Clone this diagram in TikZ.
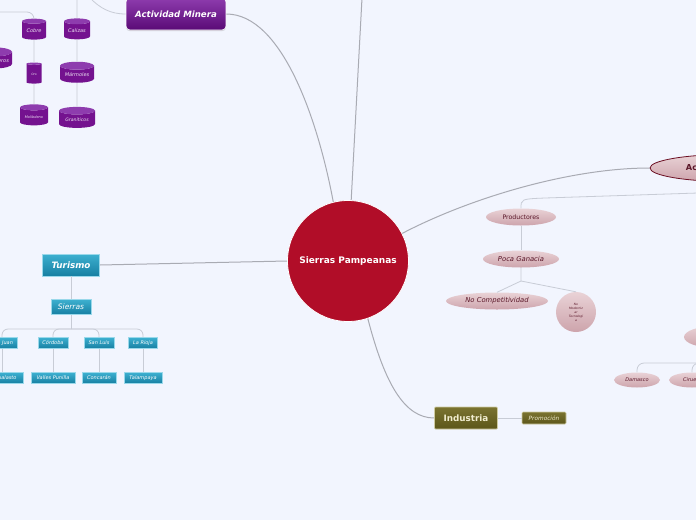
\documentclass[tikz,border=0pt]{standalone}
\usepackage{fontspec}
\setmainfont{DejaVu Sans}
\usetikzlibrary{shapes.geometric, shadows}
\definecolor{bgMap}{HTML}{F2F5FE}
\definecolor{coreRed}{HTML}{B10D28}
\definecolor{mineTop}{HTML}{8E3CAE}
\definecolor{mineMid}{HTML}{74128F}
\definecolor{mineBot}{HTML}{5A0A76}
\definecolor{mineText}{HTML}{EDE3F3}
\definecolor{turTop}{HTML}{3DB0D0}
\definecolor{turBot}{HTML}{177FA2}
\definecolor{turEdge}{HTML}{9AD8EA}
\definecolor{agroTop}{HTML}{E9D2D6}
\definecolor{agroBot}{HTML}{CDA4AC}
\definecolor{agroEdge}{HTML}{6B0E22}
\definecolor{agroText}{HTML}{5A1628}
\definecolor{indTop}{HTML}{7A7330}
\definecolor{indBot}{HTML}{5C561A}
\definecolor{indEdge}{HTML}{CFCBA2}
\definecolor{indText}{HTML}{F1EDCF}
\definecolor{linkDark}{HTML}{A9ABB3}
\definecolor{linkLight}{HTML}{C8CCD6}

\begin{document}
\begin{tikzpicture}[
    x=1pt, y=-1pt,
    core/.style={circle, draw=white, line width=0.8pt, fill=coreRed,
                 minimum size=121pt, text=white,
                 font=\bfseries\fontsize{9}{10}\selectfont},
    minebox/.style={rectangle, rounded corners=4pt, top color=mineTop, bottom color=mineBot,
                 draw=white, line width=0.6pt, minimum width=100pt, minimum height=32pt,
                 text=white, font=\bfseries\itshape\fontsize{8.6}{10}\selectfont,
                 drop shadow={opacity=0.3, shadow xshift=0pt, shadow yshift=-1.2pt}},
    minecyl/.style={cylinder, shape border rotate=90, aspect=0.3, draw=none,
                 cylinder uses custom fill, cylinder body fill=mineMid, cylinder end fill=mineTop,
                 inner sep=1pt, text=mineText, font=\itshape\fontsize{5}{6}\selectfont},
    turbox/.style={rectangle, top color=turTop, bottom color=turBot, draw=turEdge,
                 line width=0.6pt, text=white, inner sep=1pt},
    agrobox/.style={ellipse, top color=agroTop, bottom color=agroBot, draw=none,
                 inner sep=0pt, text=agroText, font=\itshape\fontsize{6.8}{8}\selectfont},
    indbox/.style={rectangle, rounded corners=1pt, top color=indTop, bottom color=indBot,
                 draw=indEdge, line width=0.6pt, text=indText, inner sep=1pt},
    link/.style={draw=linkDark, line width=1pt},
    sublink/.style={draw=linkLight, line width=0.8pt},
]

\fill[bgMap] (0,0) rectangle (696,520);
\useasboundingbox (0,0) rectangle (696,520);
\clip (0,0) rectangle (696,520);

% centre
\node[core] (sp) at (348,261) {Sierras Pampeanas};

% mineria
\node[minebox] (am) at (176,14) {Actividad Minera};
\node[minecyl, minimum width=24pt, minimum height=21pt] (cu) at (34,31) {Cobre};
\node[minecyl, minimum width=26pt, minimum height=21pt] (cal) at (77,31) {Calizas};
\node[minecyl, minimum width=34pt, minimum height=21pt] (met) at (-5,61) {Metalíferos};
\node[minecyl, minimum width=15pt, minimum height=21pt, font=\itshape\fontsize{3}{4}\selectfont] (au) at (34,74) {Oro};
\node[minecyl, minimum width=34pt, minimum height=21pt] (mar) at (77,75) {Mármoles};
\node[minecyl, minimum width=28pt, minimum height=21pt, font=\itshape\fontsize{3.5}{4}\selectfont] (mo) at (34,117) {Molibdeno};
\node[minecyl, minimum width=36pt, minimum height=21pt, font=\itshape\fontsize{4.6}{5}\selectfont] (gra) at (77,120) {Graníticos};
\coordinate (amOff) at (90,-2);
\coordinate (cuOff) at (-2,12);
\coordinate (calOff) at (77,-2);
\coordinate (spOff) at (362,-2);

% turismo
\node[turbox, minimum width=57pt, minimum height=22pt, font=\bfseries\itshape\fontsize{8.8}{10}\selectfont] (tur) at (71,265) {Turismo};
\node[turbox, minimum width=40pt, minimum height=15pt, font=\itshape\fontsize{7.5}{8}\selectfont] (sie) at (71,307) {Sierras};
\foreach \id/\x/\w/\txt in {sj/2/30/San Juan, cba/53/30/Córdoba, sl/99/30/San Luis, lr/143/29/La Rioja}
  \node[turbox, minimum width=\w pt, minimum height=11pt, font=\itshape\fontsize{5}{6}\selectfont] (\id) at (\x,343) {\txt};
\foreach \id/\x/\w/\txt in {isc/0/46/Ischigualasto, vp/53/44/Valles Punilla, con/99/34/Concarán, tal/143/38/Talampaya}
  \node[turbox, minimum width=\w pt, minimum height=11pt, font=\itshape\fontsize{5}{6}\selectfont] (\id) at (\x,378) {\txt};
\coordinate (bus) at (71,329);

% agro
\node[agrobox, draw=agroEdge, line width=0.8pt, minimum width=156pt, minimum height=27pt,
      font=\bfseries\fontsize{8.2}{9}\selectfont] (agr) at (728,168) {Actividad Agrícola};
\node[agrobox, minimum width=70pt, minimum height=17pt, font=\fontsize{6.2}{7}\selectfont] (pro) at (521,217) {Productores};
\node[agrobox, minimum width=76pt, minimum height=17pt] (pg) at (521,259) {Poca Ganacia};
\node[agrobox, minimum width=102pt, minimum height=17pt] (nc) at (497,301) {No Competitividad};
\node[agrobox, circle, minimum size=40pt, align=center,
      font=\itshape\fontsize{3}{4}\selectfont] (nmt) at (576,312) {No\\Moderniz\\ar\\Tecnologí\\a};
\node[agrobox, minimum width=64pt, minimum height=22pt] (fru) at (716,337) {Frutales};
\node[agrobox, minimum width=46pt, minimum height=15pt, font=\itshape\fontsize{5}{6}\selectfont] (dam) at (637,380) {Damasco};
\node[agrobox, minimum width=46pt, minimum height=15pt, font=\itshape\fontsize{5}{6}\selectfont] (cir) at (692,380) {Ciruela};
\coordinate (proOff) at (698,193);
\coordinate (pgFork) at (521,281);
\coordinate (fruBus) at (716,363);

% industria
\node[indbox, minimum width=63pt, minimum height=22pt, font=\bfseries\fontsize{8.8}{10}\selectfont] (ind) at (466,418) {Industria};
\node[indbox, minimum width=44pt, minimum height=12pt, font=\itshape\fontsize{5.8}{6}\selectfont] (prm) at (544,418) {Promoción};

% links
\draw[link] (sp.87) -- (spOff);
\draw[link] (sp.104) .. controls (318,120) and (282,14) .. (am.east);
\draw[sublink] (am.west) .. controls (110,14) and (100,8) .. (amOff);
\draw[sublink] (cal.north) -- (calOff);
\draw[sublink, rounded corners=7pt] (cu.north) |- (cuOff);
\draw[sublink] (cu) -- (au);
\draw[sublink] (au) -- (mo);
\draw[sublink] (cal) -- (mar);
\draw[sublink] (mar) -- (gra);

\draw[link] (tur.east) -- (sp.west);
\draw[sublink] (tur) -- (sie);
\draw[sublink] (sie.south) -- (bus);
\foreach \id in {sj, cba, sl, lr}
  \draw[sublink, rounded corners=6pt] (bus) -| (\id.north);
\foreach \a/\b in {sj/isc, cba/vp, sl/con, lr/tal}
  \draw[sublink] (\a.south) -- (\a.south |- \b.north);

\draw[link] (sp.27) .. controls (470,198) and (570,168) .. (agr.west);
\draw[sublink] (pro.north) .. controls (521,199) .. (545,198) -- (proOff);
\draw[sublink] (pro) -- (pg);
\draw[sublink] (pg.south) -- (pgFork) -- (nc.north);
\draw[sublink] (pgFork) -- (nmt.north);
\draw[sublink] (fru.south) -- (fruBus);
\draw[sublink, rounded corners=7pt] (fruBus) -| (dam.north);
\draw[sublink, rounded corners=7pt] (fruBus) -| (cir.north);

\draw[link] (sp.289) .. controls (385,385) and (405,418) .. (ind.west);
\draw[sublink] (ind) -- (prm);

\end{tikzpicture}
\end{document}
